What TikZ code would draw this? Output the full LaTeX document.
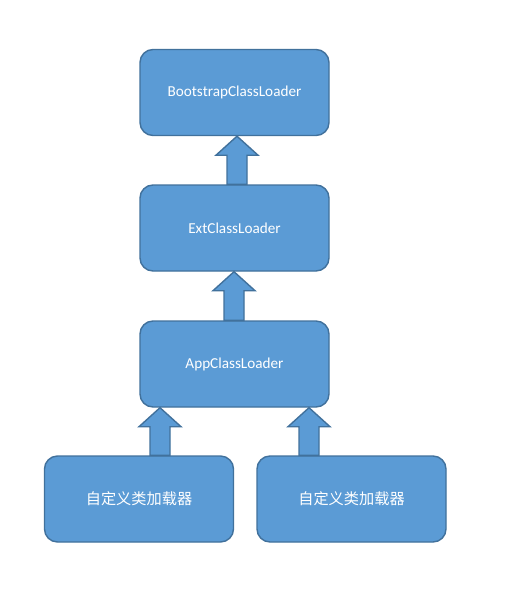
\documentclass[tikz,border=0pt]{standalone}
\usepackage{fontspec}
\setmainfont{Carlito}
\newfontfamily\cjk{Noto Sans CJK SC}
\usetikzlibrary{calc}
\definecolor{boxfill}{HTML}{5B9BD5}
\definecolor{boxline}{HTML}{41719C}
\tikzset{
  loaderbox/.style={draw=boxline, fill=boxfill, line width=1.4pt, rounded corners=13pt,
    minimum width=189pt, minimum height=86pt, inner sep=0pt, text=white,
    font=\fontsize{15.2}{17}\selectfont},
  blockarrow/.style={draw=boxline, fill=boxfill, line width=1.4pt, line join=miter}
}
\newcommand{\blockup}[3]{%
  \draw[blockarrow] let \p1=(#1.north), \p2=(#2.south), \p3=(#3,0) in
    ({\x3-10pt},\y1) -- ({\x3-10pt},{\y2-19pt}) -- ({\x3-21pt},{\y2-19pt}) --
    (\x3,\y2) -- ({\x3+21pt},{\y2-19pt}) -- ({\x3+10pt},{\y2-19pt}) --
    ({\x3+10pt},\y1) -- cycle;}
\begin{document}
\begin{tikzpicture}[x=1pt,y=-1pt]
  \useasboundingbox[fill=white] (0,0) rectangle (509,592);
  \node[loaderbox] (boot) at (234.5,92.5) {BootstrapClassLoader};
  \node[loaderbox] (ext) at (234.5,228) {ExtClassLoader};
  \node[loaderbox] (app) at (234.5,364) {AppClassLoader};
  \node[loaderbox] (cl1) at (139,499) {\cjk\fontsize{15.2}{17}\selectfont 自定义类加载器};
  \node[loaderbox] (cl2) at (351.5,499) {\cjk\fontsize{15.2}{17}\selectfont 自定义类加载器};
  \blockup{ext}{boot}{237}
  \blockup{app}{ext}{234}
  \blockup{cl1}{app}{160}
  \blockup{cl2}{app}{309}
\end{tikzpicture}
\end{document}
